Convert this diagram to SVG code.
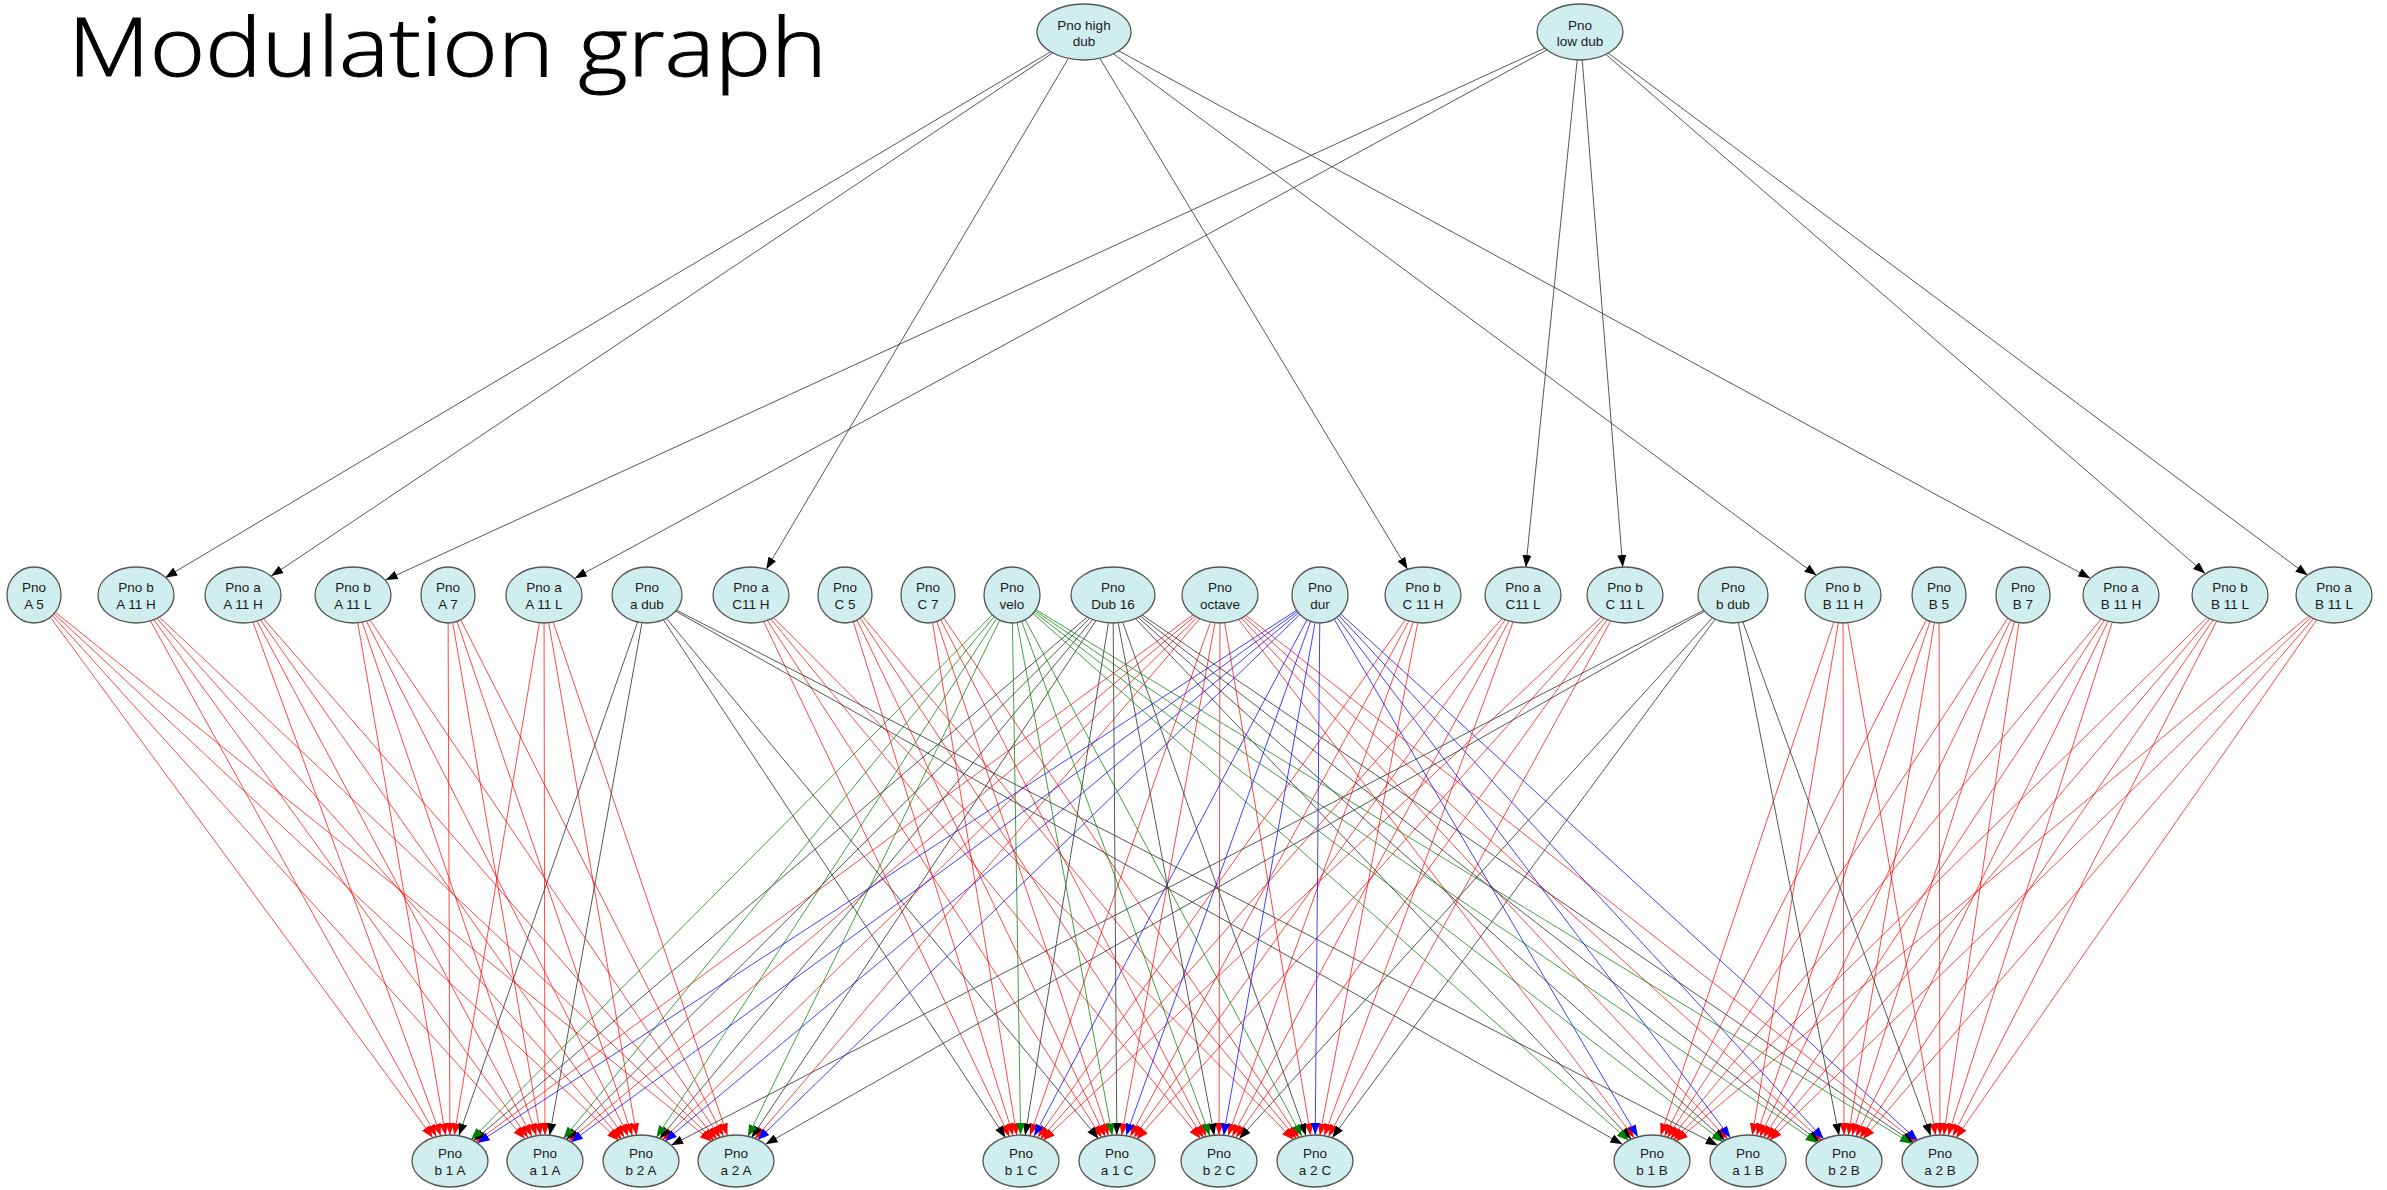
<svg xmlns="http://www.w3.org/2000/svg" width="2387" height="1190" viewBox="0 0 2387 1190">
<style>
.r{stroke:#ff0000;stroke-opacity:.72;stroke-width:1;fill:none}
.k{stroke:#3a3a3a;stroke-opacity:.85;stroke-width:1;fill:none}
.g{stroke:#008000;stroke-opacity:.75;stroke-width:1;fill:none}
.b{stroke:#0000ff;stroke-opacity:.75;stroke-width:1;fill:none}
.n ellipse{fill:#d1eeee;stroke:#555;stroke-width:1.3}
.n text{font-family:"Liberation Sans",Arial,sans-serif;font-size:13.5px;fill:#1a1a1a;text-anchor:middle}
.title{font-family:"Open Sans","Noto Sans",sans-serif;font-weight:300;font-size:82px;fill:#000;stroke:#000;stroke-width:1}
</style>
<defs>
<marker id="r26" viewBox="0 0 12 9" markerWidth="12" markerHeight="9" refX="38" refY="4.5" orient="auto" markerUnits="userSpaceOnUse"><path d="M0,0L12,4.5L0,9z" fill="#f00"/></marker>
<marker id="r27" viewBox="0 0 12 9" markerWidth="12" markerHeight="9" refX="39" refY="4.5" orient="auto" markerUnits="userSpaceOnUse"><path d="M0,0L12,4.5L0,9z" fill="#f00"/></marker>
<marker id="r28" viewBox="0 0 12 9" markerWidth="12" markerHeight="9" refX="40" refY="4.5" orient="auto" markerUnits="userSpaceOnUse"><path d="M0,0L12,4.5L0,9z" fill="#f00"/></marker>
<marker id="r29" viewBox="0 0 12 9" markerWidth="12" markerHeight="9" refX="41" refY="4.5" orient="auto" markerUnits="userSpaceOnUse"><path d="M0,0L12,4.5L0,9z" fill="#f00"/></marker>
<marker id="r30" viewBox="0 0 12 9" markerWidth="12" markerHeight="9" refX="42" refY="4.5" orient="auto" markerUnits="userSpaceOnUse"><path d="M0,0L12,4.5L0,9z" fill="#f00"/></marker>
<marker id="r31" viewBox="0 0 12 9" markerWidth="12" markerHeight="9" refX="43" refY="4.5" orient="auto" markerUnits="userSpaceOnUse"><path d="M0,0L12,4.5L0,9z" fill="#f00"/></marker>
<marker id="r32" viewBox="0 0 12 9" markerWidth="12" markerHeight="9" refX="44" refY="4.5" orient="auto" markerUnits="userSpaceOnUse"><path d="M0,0L12,4.5L0,9z" fill="#f00"/></marker>
<marker id="k26" viewBox="0 0 12 9" markerWidth="12" markerHeight="9" refX="38" refY="4.5" orient="auto" markerUnits="userSpaceOnUse"><path d="M0,0L12,4.5L0,9z" fill="#000"/></marker>
<marker id="k27" viewBox="0 0 12 9" markerWidth="12" markerHeight="9" refX="39" refY="4.5" orient="auto" markerUnits="userSpaceOnUse"><path d="M0,0L12,4.5L0,9z" fill="#000"/></marker>
<marker id="k28" viewBox="0 0 12 9" markerWidth="12" markerHeight="9" refX="40" refY="4.5" orient="auto" markerUnits="userSpaceOnUse"><path d="M0,0L12,4.5L0,9z" fill="#000"/></marker>
<marker id="k29" viewBox="0 0 12 9" markerWidth="12" markerHeight="9" refX="41" refY="4.5" orient="auto" markerUnits="userSpaceOnUse"><path d="M0,0L12,4.5L0,9z" fill="#000"/></marker>
<marker id="k30" viewBox="0 0 12 9" markerWidth="12" markerHeight="9" refX="42" refY="4.5" orient="auto" markerUnits="userSpaceOnUse"><path d="M0,0L12,4.5L0,9z" fill="#000"/></marker>
<marker id="k31" viewBox="0 0 12 9" markerWidth="12" markerHeight="9" refX="43" refY="4.5" orient="auto" markerUnits="userSpaceOnUse"><path d="M0,0L12,4.5L0,9z" fill="#000"/></marker>
<marker id="k32" viewBox="0 0 12 9" markerWidth="12" markerHeight="9" refX="44" refY="4.5" orient="auto" markerUnits="userSpaceOnUse"><path d="M0,0L12,4.5L0,9z" fill="#000"/></marker>
<marker id="k33" viewBox="0 0 12 9" markerWidth="12" markerHeight="9" refX="45" refY="4.5" orient="auto" markerUnits="userSpaceOnUse"><path d="M0,0L12,4.5L0,9z" fill="#000"/></marker>
<marker id="k34" viewBox="0 0 12 9" markerWidth="12" markerHeight="9" refX="46" refY="4.5" orient="auto" markerUnits="userSpaceOnUse"><path d="M0,0L12,4.5L0,9z" fill="#000"/></marker>
<marker id="k35" viewBox="0 0 12 9" markerWidth="12" markerHeight="9" refX="47" refY="4.5" orient="auto" markerUnits="userSpaceOnUse"><path d="M0,0L12,4.5L0,9z" fill="#000"/></marker>
<marker id="k36" viewBox="0 0 12 9" markerWidth="12" markerHeight="9" refX="48" refY="4.5" orient="auto" markerUnits="userSpaceOnUse"><path d="M0,0L12,4.5L0,9z" fill="#000"/></marker>
<marker id="g26" viewBox="0 0 12 9" markerWidth="12" markerHeight="9" refX="38" refY="4.5" orient="auto" markerUnits="userSpaceOnUse"><path d="M0,0L12,4.5L0,9z" fill="#008000"/></marker>
<marker id="g27" viewBox="0 0 12 9" markerWidth="12" markerHeight="9" refX="39" refY="4.5" orient="auto" markerUnits="userSpaceOnUse"><path d="M0,0L12,4.5L0,9z" fill="#008000"/></marker>
<marker id="g28" viewBox="0 0 12 9" markerWidth="12" markerHeight="9" refX="40" refY="4.5" orient="auto" markerUnits="userSpaceOnUse"><path d="M0,0L12,4.5L0,9z" fill="#008000"/></marker>
<marker id="g29" viewBox="0 0 12 9" markerWidth="12" markerHeight="9" refX="41" refY="4.5" orient="auto" markerUnits="userSpaceOnUse"><path d="M0,0L12,4.5L0,9z" fill="#008000"/></marker>
<marker id="g30" viewBox="0 0 12 9" markerWidth="12" markerHeight="9" refX="42" refY="4.5" orient="auto" markerUnits="userSpaceOnUse"><path d="M0,0L12,4.5L0,9z" fill="#008000"/></marker>
<marker id="g31" viewBox="0 0 12 9" markerWidth="12" markerHeight="9" refX="43" refY="4.5" orient="auto" markerUnits="userSpaceOnUse"><path d="M0,0L12,4.5L0,9z" fill="#008000"/></marker>
<marker id="g32" viewBox="0 0 12 9" markerWidth="12" markerHeight="9" refX="44" refY="4.5" orient="auto" markerUnits="userSpaceOnUse"><path d="M0,0L12,4.5L0,9z" fill="#008000"/></marker>
<marker id="g33" viewBox="0 0 12 9" markerWidth="12" markerHeight="9" refX="45" refY="4.5" orient="auto" markerUnits="userSpaceOnUse"><path d="M0,0L12,4.5L0,9z" fill="#008000"/></marker>
<marker id="b26" viewBox="0 0 12 9" markerWidth="12" markerHeight="9" refX="38" refY="4.5" orient="auto" markerUnits="userSpaceOnUse"><path d="M0,0L12,4.5L0,9z" fill="#00f"/></marker>
<marker id="b27" viewBox="0 0 12 9" markerWidth="12" markerHeight="9" refX="39" refY="4.5" orient="auto" markerUnits="userSpaceOnUse"><path d="M0,0L12,4.5L0,9z" fill="#00f"/></marker>
<marker id="b28" viewBox="0 0 12 9" markerWidth="12" markerHeight="9" refX="40" refY="4.5" orient="auto" markerUnits="userSpaceOnUse"><path d="M0,0L12,4.5L0,9z" fill="#00f"/></marker>
<marker id="b29" viewBox="0 0 12 9" markerWidth="12" markerHeight="9" refX="41" refY="4.5" orient="auto" markerUnits="userSpaceOnUse"><path d="M0,0L12,4.5L0,9z" fill="#00f"/></marker>
<marker id="b30" viewBox="0 0 12 9" markerWidth="12" markerHeight="9" refX="42" refY="4.5" orient="auto" markerUnits="userSpaceOnUse"><path d="M0,0L12,4.5L0,9z" fill="#00f"/></marker>
<marker id="b31" viewBox="0 0 12 9" markerWidth="12" markerHeight="9" refX="43" refY="4.5" orient="auto" markerUnits="userSpaceOnUse"><path d="M0,0L12,4.5L0,9z" fill="#00f"/></marker>
<marker id="b32" viewBox="0 0 12 9" markerWidth="12" markerHeight="9" refX="44" refY="4.5" orient="auto" markerUnits="userSpaceOnUse"><path d="M0,0L12,4.5L0,9z" fill="#00f"/></marker>
<marker id="b33" viewBox="0 0 12 9" markerWidth="12" markerHeight="9" refX="45" refY="4.5" orient="auto" markerUnits="userSpaceOnUse"><path d="M0,0L12,4.5L0,9z" fill="#00f"/></marker>
</defs>
<rect width="2387" height="1190" fill="#fff"/>
<text class="title" x="68" y="76" textLength="759" lengthAdjust="spacingAndGlyphs">Modulation graph</text>
<g id="connectors">
<line class="k" x1="1084" y1="32" x2="136" y2="595" marker-end="url(#k34)"/>
<line class="k" x1="1084" y1="32" x2="243" y2="595" marker-end="url(#k34)"/>
<line class="k" x1="1084" y1="32" x2="751" y2="595" marker-end="url(#k30)"/>
<line class="k" x1="1084" y1="32" x2="1423" y2="595" marker-end="url(#k30)"/>
<line class="k" x1="1084" y1="32" x2="1843" y2="595" marker-end="url(#k33)"/>
<line class="k" x1="1084" y1="32" x2="2121" y2="595" marker-end="url(#k35)"/>
<line class="k" x1="1580" y1="32" x2="353" y2="595" marker-end="url(#k36)"/>
<line class="k" x1="1580" y1="32" x2="544" y2="595" marker-end="url(#k35)"/>
<line class="k" x1="1580" y1="32" x2="1523" y2="595" marker-end="url(#k28)"/>
<line class="k" x1="1580" y1="32" x2="1625" y2="595" marker-end="url(#k28)"/>
<line class="k" x1="1580" y1="32" x2="2230" y2="595" marker-end="url(#k33)"/>
<line class="k" x1="1580" y1="32" x2="2334" y2="595" marker-end="url(#k33)"/>

<line class="r" x1="34" y1="595" x2="450" y2="1161" marker-end="url(#r29)"/>
<line class="r" x1="34" y1="595" x2="545" y2="1161" marker-end="url(#r30)"/>
<line class="r" x1="34" y1="595" x2="641" y2="1161" marker-end="url(#r30)"/>
<line class="r" x1="34" y1="595" x2="736" y2="1161" marker-end="url(#r31)"/>
<line class="r" x1="136" y1="595" x2="450" y2="1161" marker-end="url(#r28)"/>
<line class="r" x1="136" y1="595" x2="545" y2="1161" marker-end="url(#r29)"/>
<line class="r" x1="136" y1="595" x2="641" y2="1161" marker-end="url(#r29)"/>
<line class="r" x1="136" y1="595" x2="736" y2="1161" marker-end="url(#r30)"/>
<line class="r" x1="243" y1="595" x2="450" y2="1161" marker-end="url(#r27)"/>
<line class="r" x1="243" y1="595" x2="545" y2="1161" marker-end="url(#r28)"/>
<line class="r" x1="243" y1="595" x2="641" y2="1161" marker-end="url(#r29)"/>
<line class="r" x1="243" y1="595" x2="736" y2="1161" marker-end="url(#r29)"/>
<line class="r" x1="353" y1="595" x2="450" y2="1161" marker-end="url(#r26)"/>
<line class="r" x1="353" y1="595" x2="545" y2="1161" marker-end="url(#r27)"/>
<line class="r" x1="353" y1="595" x2="641" y2="1161" marker-end="url(#r28)"/>
<line class="r" x1="353" y1="595" x2="736" y2="1161" marker-end="url(#r28)"/>
<line class="r" x1="448" y1="595" x2="450" y2="1161" marker-end="url(#r26)"/>
<line class="r" x1="448" y1="595" x2="545" y2="1161" marker-end="url(#r26)"/>
<line class="r" x1="448" y1="595" x2="641" y2="1161" marker-end="url(#r27)"/>
<line class="r" x1="448" y1="595" x2="736" y2="1161" marker-end="url(#r28)"/>
<line class="r" x1="544" y1="595" x2="450" y2="1161" marker-end="url(#r26)"/>
<line class="r" x1="544" y1="595" x2="545" y2="1161" marker-end="url(#r26)"/>
<line class="r" x1="544" y1="595" x2="641" y2="1161" marker-end="url(#r26)"/>
<line class="r" x1="544" y1="595" x2="736" y2="1161" marker-end="url(#r27)"/>

<line class="r" x1="751" y1="595" x2="1021" y2="1161" marker-end="url(#r27)"/>
<line class="r" x1="751" y1="595" x2="1117" y2="1161" marker-end="url(#r28)"/>
<line class="r" x1="751" y1="595" x2="1219" y2="1161" marker-end="url(#r29)"/>
<line class="r" x1="751" y1="595" x2="1315" y2="1161" marker-end="url(#r30)"/>
<line class="r" x1="845" y1="595" x2="1021" y2="1161" marker-end="url(#r27)"/>
<line class="r" x1="845" y1="595" x2="1117" y2="1161" marker-end="url(#r27)"/>
<line class="r" x1="845" y1="595" x2="1219" y2="1161" marker-end="url(#r28)"/>
<line class="r" x1="845" y1="595" x2="1315" y2="1161" marker-end="url(#r29)"/>
<line class="r" x1="928" y1="595" x2="1021" y2="1161" marker-end="url(#r26)"/>
<line class="r" x1="928" y1="595" x2="1117" y2="1161" marker-end="url(#r27)"/>
<line class="r" x1="928" y1="595" x2="1219" y2="1161" marker-end="url(#r28)"/>
<line class="r" x1="928" y1="595" x2="1315" y2="1161" marker-end="url(#r28)"/>
<line class="r" x1="1423" y1="595" x2="1021" y2="1161" marker-end="url(#r29)"/>
<line class="r" x1="1423" y1="595" x2="1117" y2="1161" marker-end="url(#r28)"/>
<line class="r" x1="1423" y1="595" x2="1219" y2="1161" marker-end="url(#r27)"/>
<line class="r" x1="1423" y1="595" x2="1315" y2="1161" marker-end="url(#r26)"/>
<line class="r" x1="1523" y1="595" x2="1021" y2="1161" marker-end="url(#r29)"/>
<line class="r" x1="1523" y1="595" x2="1117" y2="1161" marker-end="url(#r29)"/>
<line class="r" x1="1523" y1="595" x2="1219" y2="1161" marker-end="url(#r28)"/>
<line class="r" x1="1523" y1="595" x2="1315" y2="1161" marker-end="url(#r27)"/>
<line class="r" x1="1625" y1="595" x2="1021" y2="1161" marker-end="url(#r30)"/>
<line class="r" x1="1625" y1="595" x2="1117" y2="1161" marker-end="url(#r29)"/>
<line class="r" x1="1625" y1="595" x2="1219" y2="1161" marker-end="url(#r29)"/>
<line class="r" x1="1625" y1="595" x2="1315" y2="1161" marker-end="url(#r28)"/>

<line class="r" x1="1843" y1="595" x2="1652" y2="1161" marker-end="url(#r27)"/>
<line class="r" x1="1843" y1="595" x2="1748" y2="1161" marker-end="url(#r26)"/>
<line class="r" x1="1843" y1="595" x2="1844" y2="1161" marker-end="url(#r26)"/>
<line class="r" x1="1843" y1="595" x2="1940" y2="1161" marker-end="url(#r26)"/>
<line class="r" x1="1939" y1="595" x2="1652" y2="1161" marker-end="url(#r28)"/>
<line class="r" x1="1939" y1="595" x2="1748" y2="1161" marker-end="url(#r27)"/>
<line class="r" x1="1939" y1="595" x2="1844" y2="1161" marker-end="url(#r26)"/>
<line class="r" x1="1939" y1="595" x2="1940" y2="1161" marker-end="url(#r26)"/>
<line class="r" x1="2023" y1="595" x2="1652" y2="1161" marker-end="url(#r28)"/>
<line class="r" x1="2023" y1="595" x2="1748" y2="1161" marker-end="url(#r27)"/>
<line class="r" x1="2023" y1="595" x2="1844" y2="1161" marker-end="url(#r27)"/>
<line class="r" x1="2023" y1="595" x2="1940" y2="1161" marker-end="url(#r26)"/>
<line class="r" x1="2121" y1="595" x2="1652" y2="1161" marker-end="url(#r29)"/>
<line class="r" x1="2121" y1="595" x2="1748" y2="1161" marker-end="url(#r28)"/>
<line class="r" x1="2121" y1="595" x2="1844" y2="1161" marker-end="url(#r27)"/>
<line class="r" x1="2121" y1="595" x2="1940" y2="1161" marker-end="url(#r27)"/>
<line class="r" x1="2230" y1="595" x2="1652" y2="1161" marker-end="url(#r30)"/>
<line class="r" x1="2230" y1="595" x2="1748" y2="1161" marker-end="url(#r29)"/>
<line class="r" x1="2230" y1="595" x2="1844" y2="1161" marker-end="url(#r28)"/>
<line class="r" x1="2230" y1="595" x2="1940" y2="1161" marker-end="url(#r28)"/>
<line class="r" x1="2334" y1="595" x2="1652" y2="1161" marker-end="url(#r31)"/>
<line class="r" x1="2334" y1="595" x2="1748" y2="1161" marker-end="url(#r30)"/>
<line class="r" x1="2334" y1="595" x2="1844" y2="1161" marker-end="url(#r29)"/>
<line class="r" x1="2334" y1="595" x2="1940" y2="1161" marker-end="url(#r28)"/>

<line class="r" x1="1220" y1="595" x2="450" y2="1161" marker-end="url(#r32)"/>
<line class="r" x1="1220" y1="595" x2="545" y2="1161" marker-end="url(#r31)"/>
<line class="r" x1="1220" y1="595" x2="641" y2="1161" marker-end="url(#r30)"/>
<line class="r" x1="1220" y1="595" x2="736" y2="1161" marker-end="url(#r29)"/>
<line class="r" x1="1220" y1="595" x2="1021" y2="1161" marker-end="url(#r27)"/>
<line class="r" x1="1220" y1="595" x2="1117" y2="1161" marker-end="url(#r26)"/>
<line class="r" x1="1220" y1="595" x2="1219" y2="1161" marker-end="url(#r26)"/>
<line class="r" x1="1220" y1="595" x2="1315" y2="1161" marker-end="url(#r26)"/>
<line class="r" x1="1220" y1="595" x2="1652" y2="1161" marker-end="url(#r29)"/>
<line class="r" x1="1220" y1="595" x2="1748" y2="1161" marker-end="url(#r30)"/>
<line class="r" x1="1220" y1="595" x2="1844" y2="1161" marker-end="url(#r30)"/>
<line class="r" x1="1220" y1="595" x2="1940" y2="1161" marker-end="url(#r31)"/>

<line class="k" x1="1113" y1="595" x2="450" y2="1161" marker-end="url(#k31)"/>
<line class="k" x1="1113" y1="595" x2="545" y2="1161" marker-end="url(#k30)"/>
<line class="k" x1="1113" y1="595" x2="641" y2="1161" marker-end="url(#k29)"/>
<line class="k" x1="1113" y1="595" x2="736" y2="1161" marker-end="url(#k28)"/>
<line class="k" x1="1113" y1="595" x2="1021" y2="1161" marker-end="url(#k26)"/>
<line class="k" x1="1113" y1="595" x2="1117" y2="1161" marker-end="url(#k26)"/>
<line class="k" x1="1113" y1="595" x2="1219" y2="1161" marker-end="url(#k26)"/>
<line class="k" x1="1113" y1="595" x2="1315" y2="1161" marker-end="url(#k27)"/>
<line class="k" x1="1113" y1="595" x2="1652" y2="1161" marker-end="url(#k30)"/>
<line class="k" x1="1113" y1="595" x2="1748" y2="1161" marker-end="url(#k31)"/>
<line class="k" x1="1113" y1="595" x2="1844" y2="1161" marker-end="url(#k31)"/>
<line class="k" x1="1113" y1="595" x2="1940" y2="1161" marker-end="url(#k32)"/>

<line class="g" x1="1012" y1="595" x2="450" y2="1161" marker-end="url(#g30)"/>
<line class="g" x1="1012" y1="595" x2="545" y2="1161" marker-end="url(#g29)"/>
<line class="g" x1="1012" y1="595" x2="641" y2="1161" marker-end="url(#g28)"/>
<line class="g" x1="1012" y1="595" x2="736" y2="1161" marker-end="url(#g27)"/>
<line class="g" x1="1012" y1="595" x2="1021" y2="1161" marker-end="url(#g26)"/>
<line class="g" x1="1012" y1="595" x2="1117" y2="1161" marker-end="url(#g26)"/>
<line class="g" x1="1012" y1="595" x2="1219" y2="1161" marker-end="url(#g27)"/>
<line class="g" x1="1012" y1="595" x2="1315" y2="1161" marker-end="url(#g28)"/>
<line class="g" x1="1012" y1="595" x2="1652" y2="1161" marker-end="url(#g31)"/>
<line class="g" x1="1012" y1="595" x2="1748" y2="1161" marker-end="url(#g31)"/>
<line class="g" x1="1012" y1="595" x2="1844" y2="1161" marker-end="url(#g32)"/>
<line class="g" x1="1012" y1="595" x2="1940" y2="1161" marker-end="url(#g33)"/>

<line class="b" x1="1320" y1="595" x2="450" y2="1161" marker-end="url(#b33)"/>
<line class="b" x1="1320" y1="595" x2="545" y2="1161" marker-end="url(#b32)"/>
<line class="b" x1="1320" y1="595" x2="641" y2="1161" marker-end="url(#b31)"/>
<line class="b" x1="1320" y1="595" x2="736" y2="1161" marker-end="url(#b30)"/>
<line class="b" x1="1320" y1="595" x2="1021" y2="1161" marker-end="url(#b28)"/>
<line class="b" x1="1320" y1="595" x2="1117" y2="1161" marker-end="url(#b27)"/>
<line class="b" x1="1320" y1="595" x2="1219" y2="1161" marker-end="url(#b26)"/>
<line class="b" x1="1320" y1="595" x2="1315" y2="1161" marker-end="url(#b26)"/>
<line class="b" x1="1320" y1="595" x2="1652" y2="1161" marker-end="url(#b28)"/>
<line class="b" x1="1320" y1="595" x2="1748" y2="1161" marker-end="url(#b29)"/>
<line class="b" x1="1320" y1="595" x2="1844" y2="1161" marker-end="url(#b30)"/>
<line class="b" x1="1320" y1="595" x2="1940" y2="1161" marker-end="url(#b30)"/>

<line class="k" x1="647" y1="595" x2="450" y2="1161" marker-end="url(#k27)"/>
<line class="k" x1="647" y1="595" x2="545" y2="1161" marker-end="url(#k26)"/>
<line class="k" x1="647" y1="595" x2="1021" y2="1161" marker-end="url(#k28)"/>
<line class="k" x1="647" y1="595" x2="1117" y2="1161" marker-end="url(#k29)"/>
<line class="k" x1="647" y1="595" x2="1652" y2="1161" marker-end="url(#k34)"/>
<line class="k" x1="647" y1="595" x2="1748" y2="1161" marker-end="url(#k34)"/>
<line class="k" x1="1733" y1="595" x2="641" y2="1161" marker-end="url(#k34)"/>
<line class="k" x1="1733" y1="595" x2="736" y2="1161" marker-end="url(#k34)"/>
<line class="k" x1="1733" y1="595" x2="1219" y2="1161" marker-end="url(#k30)"/>
<line class="k" x1="1733" y1="595" x2="1315" y2="1161" marker-end="url(#k29)"/>
<line class="k" x1="1733" y1="595" x2="1844" y2="1161" marker-end="url(#k26)"/>
<line class="k" x1="1733" y1="595" x2="1940" y2="1161" marker-end="url(#k27)"/>
</g>

<g id="pno_high_dub" class="n"><ellipse cx="1084" cy="32" rx="47" ry="28"/><text x="1084" y="29.5">Pno high<tspan x="1084" y="46">dub</tspan></text></g>
<g id="pno_low_dub" class="n"><ellipse cx="1580" cy="32" rx="43" ry="28"/><text x="1580" y="29.5">Pno<tspan x="1580" y="46">low dub</tspan></text></g>

<g id="pno_A_5" class="n"><ellipse cx="34" cy="595" rx="27" ry="28"/><text x="34" y="592">Pno<tspan x="34" y="608.5">A 5</tspan></text></g>
<g id="pno_b_A_11_H" class="n"><ellipse cx="136" cy="595" rx="38" ry="28"/><text x="136" y="592">Pno b<tspan x="136" y="608.5">A 11 H</tspan></text></g>
<g id="pno_a_A_11_H" class="n"><ellipse cx="243" cy="595" rx="38" ry="28"/><text x="243" y="592">Pno a<tspan x="243" y="608.5">A 11 H</tspan></text></g>
<g id="pno_b_A_11_L" class="n"><ellipse cx="353" cy="595" rx="38" ry="28"/><text x="353" y="592">Pno b<tspan x="353" y="608.5">A 11 L</tspan></text></g>
<g id="pno_A_7" class="n"><ellipse cx="448" cy="595" rx="27" ry="28"/><text x="448" y="592">Pno<tspan x="448" y="608.5">A 7</tspan></text></g>
<g id="pno_a_A_11_L" class="n"><ellipse cx="544" cy="595" rx="38" ry="28"/><text x="544" y="592">Pno a<tspan x="544" y="608.5">A 11 L</tspan></text></g>
<g id="pno_a_dub" class="n"><ellipse cx="647" cy="595" rx="35" ry="28"/><text x="647" y="592">Pno<tspan x="647" y="608.5">a dub</tspan></text></g>
<g id="pno_a_C11_H" class="n"><ellipse cx="751" cy="595" rx="38" ry="28"/><text x="751" y="592">Pno a<tspan x="751" y="608.5">C11 H</tspan></text></g>
<g id="pno_C_5" class="n"><ellipse cx="845" cy="595" rx="27" ry="28"/><text x="845" y="592">Pno<tspan x="845" y="608.5">C 5</tspan></text></g>
<g id="pno_C_7" class="n"><ellipse cx="928" cy="595" rx="27" ry="28"/><text x="928" y="592">Pno<tspan x="928" y="608.5">C 7</tspan></text></g>
<g id="pno_velo" class="n"><ellipse cx="1012" cy="595" rx="28" ry="28"/><text x="1012" y="592">Pno<tspan x="1012" y="608.5">velo</tspan></text></g>
<g id="pno_Dub_16" class="n"><ellipse cx="1113" cy="595" rx="42" ry="28"/><text x="1113" y="592">Pno<tspan x="1113" y="608.5">Dub 16</tspan></text></g>
<g id="pno_octave" class="n"><ellipse cx="1220" cy="595" rx="38" ry="28"/><text x="1220" y="592">Pno<tspan x="1220" y="608.5">octave</tspan></text></g>
<g id="pno_dur" class="n"><ellipse cx="1320" cy="595" rx="28" ry="28"/><text x="1320" y="592">Pno<tspan x="1320" y="608.5">dur</tspan></text></g>
<g id="pno_b_C_11_H" class="n"><ellipse cx="1423" cy="595" rx="38" ry="28"/><text x="1423" y="592">Pno b<tspan x="1423" y="608.5">C 11 H</tspan></text></g>
<g id="pno_a_C11_L" class="n"><ellipse cx="1523" cy="595" rx="38" ry="28"/><text x="1523" y="592">Pno a<tspan x="1523" y="608.5">C11 L</tspan></text></g>
<g id="pno_b_C_11_L" class="n"><ellipse cx="1625" cy="595" rx="38" ry="28"/><text x="1625" y="592">Pno b<tspan x="1625" y="608.5">C 11 L</tspan></text></g>
<g id="pno_b_dub" class="n"><ellipse cx="1733" cy="595" rx="35" ry="28"/><text x="1733" y="592">Pno<tspan x="1733" y="608.5">b dub</tspan></text></g>
<g id="pno_b_B_11_H" class="n"><ellipse cx="1843" cy="595" rx="38" ry="28"/><text x="1843" y="592">Pno b<tspan x="1843" y="608.5">B 11 H</tspan></text></g>
<g id="pno_B_5" class="n"><ellipse cx="1939" cy="595" rx="27" ry="28"/><text x="1939" y="592">Pno<tspan x="1939" y="608.5">B 5</tspan></text></g>
<g id="pno_B_7" class="n"><ellipse cx="2023" cy="595" rx="27" ry="28"/><text x="2023" y="592">Pno<tspan x="2023" y="608.5">B 7</tspan></text></g>
<g id="pno_a_B_11_H" class="n"><ellipse cx="2121" cy="595" rx="38" ry="28"/><text x="2121" y="592">Pno a<tspan x="2121" y="608.5">B 11 H</tspan></text></g>
<g id="pno_b_B_11_L" class="n"><ellipse cx="2230" cy="595" rx="38" ry="28"/><text x="2230" y="592">Pno b<tspan x="2230" y="608.5">B 11 L</tspan></text></g>
<g id="pno_a_B_11_L" class="n"><ellipse cx="2334" cy="595" rx="38" ry="28"/><text x="2334" y="592">Pno a<tspan x="2334" y="608.5">B 11 L</tspan></text></g>

<g id="pno_b_1_A" class="n"><ellipse cx="450" cy="1161" rx="38" ry="26"/><text x="450" y="1157.5">Pno<tspan x="450" y="1174.5">b 1 A</tspan></text></g>
<g id="pno_a_1_A" class="n"><ellipse cx="545" cy="1161" rx="38" ry="26"/><text x="545" y="1157.5">Pno<tspan x="545" y="1174.5">a 1 A</tspan></text></g>
<g id="pno_b_2_A" class="n"><ellipse cx="641" cy="1161" rx="38" ry="26"/><text x="641" y="1157.5">Pno<tspan x="641" y="1174.5">b 2 A</tspan></text></g>
<g id="pno_a_2_A" class="n"><ellipse cx="736" cy="1161" rx="38" ry="26"/><text x="736" y="1157.5">Pno<tspan x="736" y="1174.5">a 2 A</tspan></text></g>
<g id="pno_b_1_C" class="n"><ellipse cx="1021" cy="1161" rx="38" ry="26"/><text x="1021" y="1157.5">Pno<tspan x="1021" y="1174.5">b 1 C</tspan></text></g>
<g id="pno_a_1_C" class="n"><ellipse cx="1117" cy="1161" rx="38" ry="26"/><text x="1117" y="1157.5">Pno<tspan x="1117" y="1174.5">a 1 C</tspan></text></g>
<g id="pno_b_2_C" class="n"><ellipse cx="1219" cy="1161" rx="38" ry="26"/><text x="1219" y="1157.5">Pno<tspan x="1219" y="1174.5">b 2 C</tspan></text></g>
<g id="pno_a_2_C" class="n"><ellipse cx="1315" cy="1161" rx="38" ry="26"/><text x="1315" y="1157.5">Pno<tspan x="1315" y="1174.5">a 2 C</tspan></text></g>
<g id="pno_b_1_B" class="n"><ellipse cx="1652" cy="1161" rx="38" ry="26"/><text x="1652" y="1157.5">Pno<tspan x="1652" y="1174.5">b 1 B</tspan></text></g>
<g id="pno_a_1_B" class="n"><ellipse cx="1748" cy="1161" rx="38" ry="26"/><text x="1748" y="1157.5">Pno<tspan x="1748" y="1174.5">a 1 B</tspan></text></g>
<g id="pno_b_2_B" class="n"><ellipse cx="1844" cy="1161" rx="38" ry="26"/><text x="1844" y="1157.5">Pno<tspan x="1844" y="1174.5">b 2 B</tspan></text></g>
<g id="pno_a_2_B" class="n"><ellipse cx="1940" cy="1161" rx="38" ry="26"/><text x="1940" y="1157.5">Pno<tspan x="1940" y="1174.5">a 2 B</tspan></text></g>
</svg>
